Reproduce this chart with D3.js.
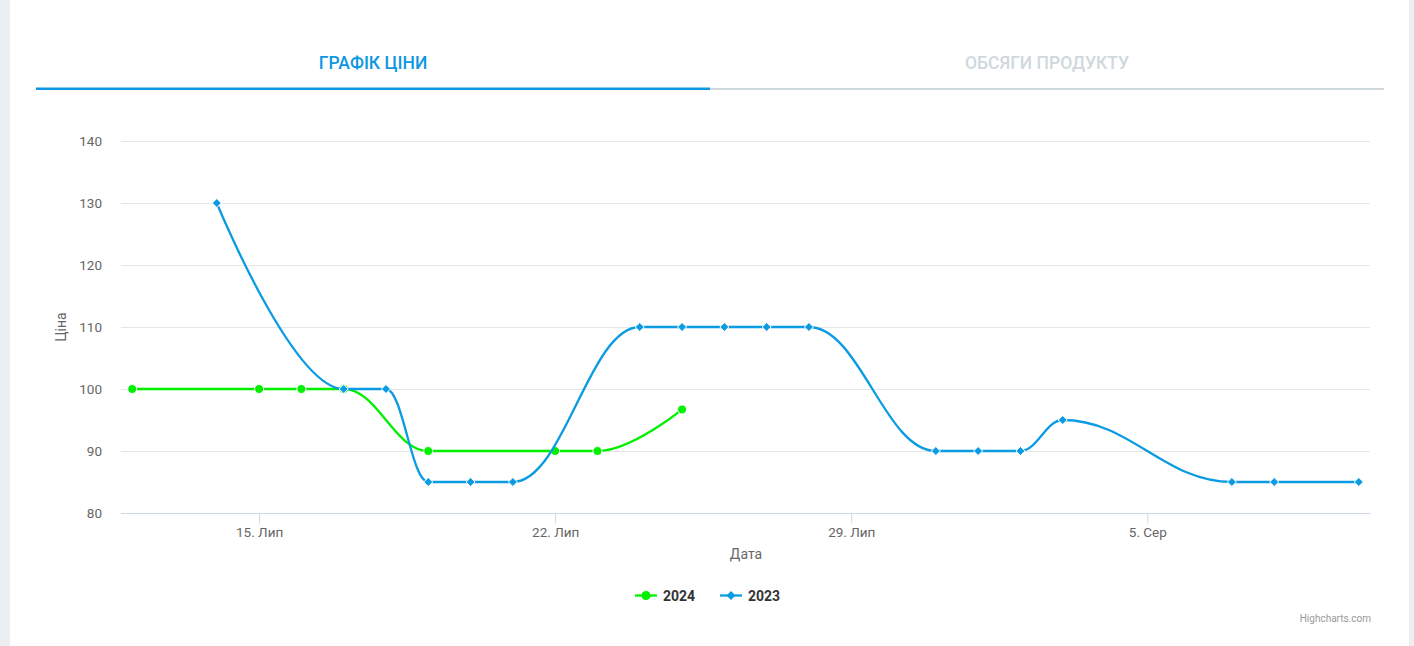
<!DOCTYPE html>
<html>
<head>
<meta charset="utf-8">
<script src="https://cdn.jsdelivr.net/npm/d3@7"></script>
<style>
  html, body { margin: 0; padding: 0; background: #fff; }
  svg { display: block; font-family: Roboto, "Noto Sans", sans-serif; }
</style>
</head>
<body>
<svg id="chart" width="1414" height="646"></svg>
<script>
// ---- data ----
const dates2024 = ["2024-07-12","2024-07-15","2024-07-16","2024-07-17","2024-07-19","2024-07-22","2024-07-23","2024-07-25"];
const values2024 = [100, 100, 100, 100, 90, 90, 90, 96.7];
const dates2023 = ["2024-07-14","2024-07-17","2024-07-18","2024-07-19","2024-07-20","2024-07-21","2024-07-24","2024-07-25","2024-07-26","2024-07-27","2024-07-28","2024-07-31","2024-08-01","2024-08-02","2024-08-03","2024-08-07","2024-08-08","2024-08-10"];
const values2023 = [130, 100, 100, 85, 85, 85, 110, 110, 110, 110, 110, 90, 90, 90, 95, 85, 85, 85];
const xTickDates = ["2024-07-15","2024-07-22","2024-07-29","2024-08-05"];
const xTickLabels = ["15. Лип","22. Лип","29. Лип","5. Сер"];
const yTicks = [80, 90, 100, 110, 120, 130, 140];
const seriesNames = ["2024", "2023"];
const tabLabels = ["ГРАФІК ЦІНИ", "ОБСЯГИ ПРОДУКТУ"];

const DAY = 86400000;
const parse = s => new Date(s + "T00:00:00Z");

const svg = d3.select("#chart");

// page side strips
svg.append("rect").attr("x", 0).attr("y", 0).attr("width", 10).attr("height", 646).attr("fill", "#eceff1");
svg.append("rect").attr("x", 1409).attr("y", 0).attr("width", 5).attr("height", 646).attr("fill", "#eceff1");

// tabs
svg.append("text").attr("x", 373).attr("y", 68.5).attr("text-anchor", "middle")
  .attr("font-size", 17.5).attr("font-weight", 500).attr("fill", "#0d97e2").text(tabLabels[0]);
svg.append("text").attr("x", 1047).attr("y", 68.5).attr("text-anchor", "middle")
  .attr("font-size", 17.5).attr("font-weight", 500).attr("fill", "#cfd8dc").text(tabLabels[1]);
svg.append("rect").attr("x", 36).attr("y", 87.5).attr("width", 674).attr("height", 2.5).attr("fill", "#0d97e2");
svg.append("rect").attr("x", 710).attr("y", 88).attr("width", 674).attr("height", 2).attr("fill", "#cfd8dc");

// scales
const xMin = parse("2024-07-12").getTime() - 0.265 * DAY;
const xMax = parse("2024-08-10").getTime() + 0.265 * DAY;
const x = d3.scaleUtc().domain([new Date(xMin), new Date(xMax)]).range([121, 1370]);
const y = d3.scaleLinear().domain([80, 140]).range([513, 141]);

// gridlines
svg.append("g").selectAll("line").data(yTicks.filter(v => v !== 80)).join("line")
  .attr("x1", 121).attr("x2", 1370)
  .attr("y1", d => Math.round(y(d)) + 0.5).attr("y2", d => Math.round(y(d)) + 0.5)
  .attr("stroke", "#e6e6e6").attr("stroke-width", 1);

// y axis labels
svg.append("g").selectAll("text").data(yTicks).join("text")
  .attr("x", 102).attr("y", d => y(d) + 5).attr("text-anchor", "end")
  .attr("font-size", 13.5).attr("fill", "#666").text(d => d);

// x axis
const xAxis = d3.axisBottom(x)
  .tickValues(xTickDates.map(parse))
  .tickFormat((d, i) => xTickLabels[i])
  .tickSizeInner(10).tickSizeOuter(0).tickPadding(5);
const gx = svg.append("g").attr("transform", "translate(0,513.5)").call(xAxis);
gx.select(".domain").attr("stroke", "#ccd6eb").attr("d", "M121,0H1370");
gx.selectAll(".tick line").attr("stroke", "#ccd6eb");
gx.selectAll(".tick text").attr("font-size", 13.5).attr("fill", "#666").attr("font-family", "Roboto, sans-serif").attr("dy", "0.6em");

// axis titles
svg.append("text").attr("transform", "translate(66,327) rotate(-90)").attr("text-anchor", "middle")
  .attr("font-size", 14).attr("fill", "#666").text("Ціна");
svg.append("text").attr("x", 746).attr("y", 559).attr("text-anchor", "middle")
  .attr("font-size", 14).attr("fill", "#666").text("Дата");

// Highcharts-like spline
function splinePath(pts) {
  const smoothing = 1.5, denom = smoothing + 1;
  const p = d3.path();
  const ctrl = [];
  pts.forEach((pt, i) => {
    const [px, py] = pt;
    let leftContX, leftContY, rightContX, rightContY;
    const last = pts[i - 1], next = pts[i + 1];
    if (last && next) {
      const [lastX, lastY] = last, [nextX, nextY] = next;
      leftContX = (smoothing * px + lastX) / denom;
      leftContY = (smoothing * py + lastY) / denom;
      rightContX = (smoothing * px + nextX) / denom;
      rightContY = (smoothing * py + nextY) / denom;
      if (rightContX !== leftContX) {
        const correction = ((rightContY - leftContY) * (rightContX - px)) / (rightContX - leftContX) + py - rightContY;
        leftContY += correction; rightContY += correction;
        if (leftContY > lastY && leftContY > py) { leftContY = Math.max(lastY, py); rightContY = 2 * py - leftContY; }
        else if (leftContY < lastY && leftContY < py) { leftContY = Math.min(lastY, py); rightContY = 2 * py - leftContY; }
        if (rightContY > nextY && rightContY > py) { rightContY = Math.max(nextY, py); leftContY = 2 * py - rightContY; }
        else if (rightContY < nextY && rightContY < py) { rightContY = Math.min(nextY, py); leftContY = 2 * py - rightContY; }
      }
      ctrl[i] = [rightContX, rightContY];
    }
    if (i === 0) p.moveTo(px, py);
    else {
      const lc = ctrl[i - 1] || last;
      p.bezierCurveTo(lc[0], lc[1], leftContX ?? px, leftContY ?? py, px, py);
    }
  });
  return p.toString();
}

const s2024 = dates2024.map((d, i) => [x(parse(d)), y(values2024[i])]);
const s2023 = dates2023.map((d, i) => [x(parse(d)), y(values2023[i])]);

const c2024 = "#00f000", c2023 = "#0a9be3";
const diamond = (cx, cy, r) => `M${cx},${cy - r}L${cx + r},${cy}L${cx},${cy + r}L${cx - r},${cy}Z`;

// series 2024
svg.append("path").attr("d", splinePath(s2024)).attr("fill", "none").attr("stroke", c2024).attr("stroke-width", 2.3).attr("stroke-linejoin", "round");
svg.append("g").selectAll("circle").data(s2024).join("circle")
  .attr("cx", d => d[0]).attr("cy", d => d[1]).attr("r", 4.5)
  .attr("fill", c2024).attr("stroke", "#fff").attr("stroke-width", 1);

// series 2023
svg.append("path").attr("d", splinePath(s2023)).attr("fill", "none").attr("stroke", c2023).attr("stroke-width", 2.3).attr("stroke-linejoin", "round");
svg.append("g").selectAll("path").data(s2023).join("path")
  .attr("d", d => diamond(d[0], d[1], 4.5))
  .attr("fill", c2023).attr("stroke", "#fff").attr("stroke-width", 1);

// legend
const lg = svg.append("g");
lg.append("line").attr("x1", 635).attr("x2", 657).attr("y1", 595.5).attr("y2", 595.5).attr("stroke", c2024).attr("stroke-width", 2.3);
lg.append("circle").attr("cx", 646).attr("cy", 595.5).attr("r", 4.5).attr("fill", c2024);
lg.append("text").attr("x", 663).attr("y", 600.5).attr("font-size", 14).attr("font-weight", "bold").attr("fill", "#333").text(seriesNames[0]);
lg.append("line").attr("x1", 720).attr("x2", 742).attr("y1", 595.5).attr("y2", 595.5).attr("stroke", c2023).attr("stroke-width", 2.3);
lg.append("path").attr("d", diamond(731, 595.5, 4.5)).attr("fill", c2023);
lg.append("text").attr("x", 748).attr("y", 600.5).attr("font-size", 14).attr("font-weight", "bold").attr("fill", "#333").text(seriesNames[1]);

// credits
svg.append("text").attr("x", 1371).attr("y", 622).attr("text-anchor", "end")
  .attr("font-size", 10).attr("fill", "#999").text("Highcharts.com");
</script>
</body>
</html>
